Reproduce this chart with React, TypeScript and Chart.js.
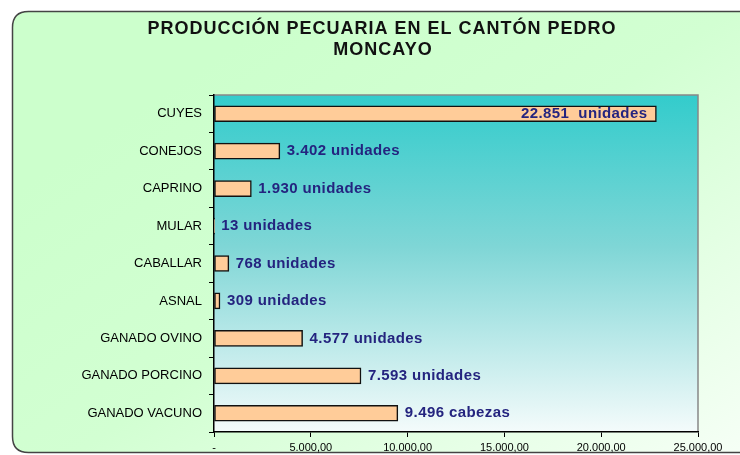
import React, { useEffect, useRef } from "react";
import { Chart, registerables } from "chart.js";

Chart.register(...registerables);

const categories = [
  "CUYES",
  "CONEJOS",
  "CAPRINO",
  "MULAR",
  "CABALLAR",
  "ASNAL",
  "GANADO OVINO",
  "GANADO PORCINO",
  "GANADO VACUNO",
];
const values = [22851, 3402, 1930, 13, 768, 309, 4577, 7593, 9496];
const valueLabels = [
  "22.851  unidades",
  "3.402 unidades",
  "1.930 unidades",
  "13 unidades",
  "768 unidades",
  "309 unidades",
  "4.577 unidades",
  "7.593 unidades",
  "9.496 cabezas",
];
const titleLines = ["PRODUCCIÓN PECUARIA EN EL CANTÓN PEDRO", "MONCAYO"];
const xMax = 25000;
const xStep = 5000;

function fmtTick(v: number): string {
  if (v === 0) return "-";
  const s = Math.round(v).toString().replace(/\B(?=(\d{3})+(?!\d))/g, ".");
  return s + ",00";
}

const backgroundPlugin = {
  id: "bgPlugin",
  beforeDraw(chart: any) {
    const { ctx, chartArea } = chart;
    ctx.save();
    ctx.fillStyle = "#ffffff";
    ctx.fillRect(0, 0, chart.width, chart.height);
    // outer rounded box
    const x0 = 12.5, y0 = 11.5, x1 = 770, y1 = 452.5, r = 16;
    ctx.beginPath();
    ctx.moveTo(x0 + r, y0);
    ctx.lineTo(x1, y0);
    ctx.lineTo(x1, y1);
    ctx.lineTo(x0 + r, y1);
    ctx.quadraticCurveTo(x0, y1, x0, y1 - r);
    ctx.lineTo(x0, y0 + r);
    ctx.quadraticCurveTo(x0, y0, x0 + r, y0);
    ctx.closePath();
    const g = ctx.createLinearGradient(300, 0, 650, 520);
    g.addColorStop(0, "#ccffcc");
    g.addColorStop(0.4, "#d2ffd2");
    g.addColorStop(1, "#f6fff6");
    ctx.fillStyle = g;
    ctx.fill();
    ctx.lineWidth = 1.5;
    ctx.strokeStyle = "#444444";
    ctx.stroke();
    // plot area gradient
    const pg = ctx.createLinearGradient(0, chartArea.top, 0, chartArea.bottom);
    pg.addColorStop(0, "#33cccc");
    pg.addColorStop(0.45, "#7fd6d6");
    pg.addColorStop(1, "#f4fbfb");
    ctx.fillStyle = pg;
    ctx.fillRect(chartArea.left, chartArea.top, chartArea.right - chartArea.left, chartArea.bottom - chartArea.top);
    ctx.strokeStyle = "#888888";
    ctx.lineWidth = 1.5;
    ctx.beginPath();
    ctx.moveTo(chartArea.left, chartArea.top);
    ctx.lineTo(chartArea.right, chartArea.top);
    ctx.lineTo(chartArea.right, chartArea.bottom);
    ctx.stroke();
    // title
    ctx.fillStyle = "#111111";
    ctx.font = "bold 18px 'Liberation Sans', Arial, sans-serif";
    (ctx as any).letterSpacing = "1px";
    ctx.textAlign = "center";
    ctx.textBaseline = "alphabetic";
    ctx.fillText(titleLines[0], 382, 34);
    ctx.fillText(titleLines[1], 383, 55);
    ctx.restore();
  },
};

const labelPlugin = {
  id: "valueLabels",
  afterDatasetsDraw(chart: any) {
    const { ctx } = chart;
    const meta = chart.getDatasetMeta(0);
    ctx.save();
    ctx.font = "bold 15px 'Liberation Sans', Arial, sans-serif";
    (ctx as any).letterSpacing = "0.4px";
    ctx.fillStyle = "#24247f";
    ctx.textBaseline = "middle";
    meta.data.forEach((bar: any, i: number) => {
      const text = valueLabels[i];
      if (i === 0) {
        ctx.textAlign = "right";
        ctx.fillText(text, bar.x - 9, bar.y);
      } else {
        ctx.textAlign = "left";
        ctx.fillText(text, Math.max(bar.x, chart.chartArea.left) + 7, bar.y);
      }
    });
    ctx.restore();
  },
};

export default function App() {
  const ref = useRef<HTMLCanvasElement | null>(null);
  useEffect(() => {
    if (!ref.current) return;
    const chart = new Chart(ref.current, {
      type: "bar",
      data: {
        labels: categories,
        datasets: [
          {
            data: values,
            backgroundColor: "#ffcc99",
            borderColor: "#111111",
            borderWidth: 1.5,
            borderSkipped: false,
            barThickness: 16,
          },
        ],
      },
      options: {
        indexAxis: "y",
        responsive: false,
        animation: false,
        layout: { padding: { top: 95, right: 42, left: 0, bottom: 0 } },
        plugins: {
          legend: { display: false },
          title: { display: false },
          tooltip: { enabled: false },
        },
        scales: {
          x: {
            min: 0,
            max: xMax,
            afterFit: (s: any) => {
              s.height = 23;
            },
            ticks: {
              stepSize: xStep,
              color: "#000000",
              font: { family: "'Liberation Sans', Arial, sans-serif", size: 11 },
              padding: 4,
              maxRotation: 0,
              autoSkip: false,
              callback: (v: any) => fmtTick(Number(v)),
            },
            grid: {
              drawOnChartArea: false,
              drawTicks: true,
              tickLength: 5,
              color: "#000000",
            },
            border: { color: "#000000", width: 1.5 },
          },
          y: {
            afterFit: (s: any) => {
              s.width = 214;
            },
            ticks: {
              color: "#000000",
              font: { family: "'Liberation Sans', Arial, sans-serif", size: 13 },
              padding: 7,
              autoSkip: false,
            },
            grid: {
              drawOnChartArea: false,
              drawTicks: true,
              tickLength: 5,
              color: "#000000",
            },
            border: { color: "#000000", width: 1.5 },
          },
        },
      },
      plugins: [backgroundPlugin, labelPlugin],
    });
    return () => chart.destroy();
  }, []);
  return (
    <div style={{ position: "absolute", left: 0, top: 0, width: 740, height: 455 }}>
      <canvas ref={ref} width={740} height={455} style={{ width: 740, height: 455 }} />
    </div>
  );
}
